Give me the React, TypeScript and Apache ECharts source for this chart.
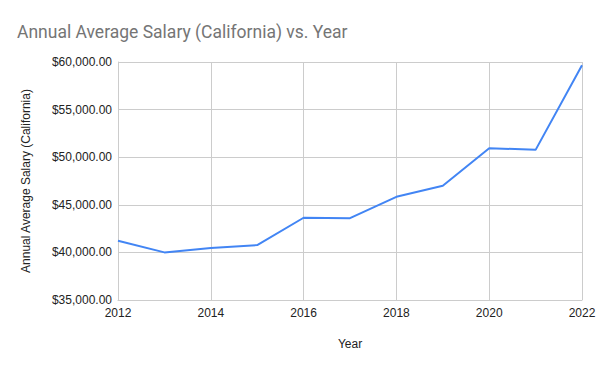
import React, { useEffect, useRef } from "react";
import * as echarts from "echarts";

const years = [2012, 2013, 2014, 2015, 2016, 2017, 2018, 2019, 2020, 2021, 2022];
const salaries = [41220, 40000, 40460, 40770, 43640, 43600, 45840, 47000, 50950, 50770, 59660];

export default function App() {
  const ref = useRef<HTMLDivElement>(null);
  useEffect(() => {
    document.body.style.margin = "0";
    const chart = echarts.init(ref.current!, null, { renderer: "svg" });
    chart.setOption({
      animation: false,
      backgroundColor: "#ffffff",
      title: {
        text: "Annual Average Salary (California) vs. Year",
        left: 12,
        top: 18,
        textStyle: { fontFamily: "Roboto", fontSize: 17.5, fontWeight: "normal", color: "#757575" },
      },
      grid: { left: 118, right: 18, top: 62, bottom: 71, containLabel: false },
      xAxis: {
        type: "value",
        min: 2012,
        max: 2022,
        interval: 2,
        name: "Year",
        nameLocation: "middle",
        nameGap: 38,
        nameTextStyle: { fontFamily: "Liberation Sans", fontSize: 12, color: "#222" },
        axisLine: { show: true, lineStyle: { color: "#cccccc" } },
        axisTick: { show: false },
        axisLabel: {
          fontFamily: "Liberation Sans",
          fontSize: 12,
          color: "#222",
          margin: 7,
          formatter: (v: number) => String(v),
        },
        splitLine: { show: true, lineStyle: { color: "#cccccc" } },
      },
      yAxis: {
        type: "value",
        min: 35000,
        max: 60000,
        interval: 5000,
        name: "Annual Average Salary (California)",
        nameLocation: "middle",
        nameGap: 86,
        nameTextStyle: { fontFamily: "Liberation Sans", fontSize: 12, color: "#222" },
        axisLine: { show: true, lineStyle: { color: "#cccccc" } },
        axisTick: { show: false },
        axisLabel: {
          fontFamily: "Liberation Sans",
          fontSize: 12,
          color: "#222",
          margin: 6,
          formatter: (v: number) =>
            "$" + v.toLocaleString("en-US", { minimumFractionDigits: 2, maximumFractionDigits: 2 }),
        },
        splitLine: { show: true, lineStyle: { color: "#cccccc" } },
      },
      series: [
        {
          type: "line",
          data: years.map((y, i) => [y, salaries[i]]),
          showSymbol: false,
          lineStyle: { color: "#4285F4", width: 2 },
          itemStyle: { color: "#4285F4" },
        },
      ],
    });
    return () => chart.dispose();
  }, []);
  return <div ref={ref} style={{ width: 600, height: 371 }} />;
}
